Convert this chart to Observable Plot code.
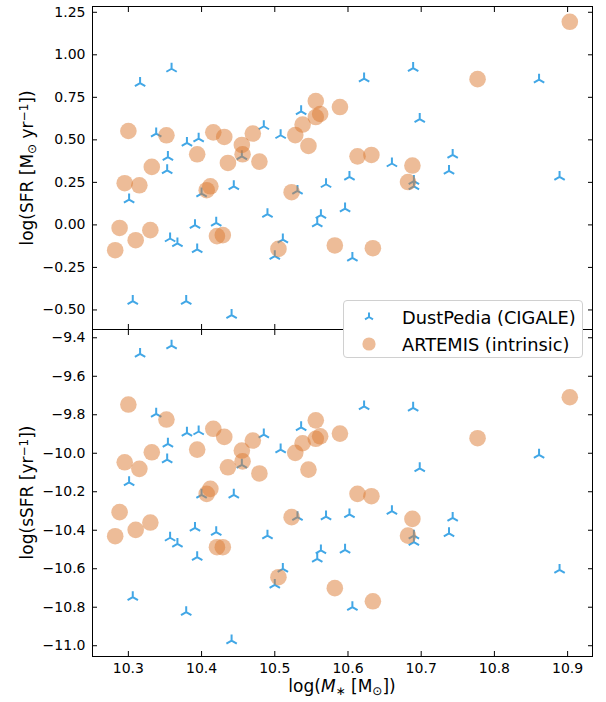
<!DOCTYPE html>
<html>
<head>
<meta charset="utf-8">
<script src="https://cdn.jsdelivr.net/npm/d3@7"></script>
<script src="https://cdn.jsdelivr.net/npm/@observablehq/plot@0.6"></script>
<style>
  html, body { margin: 0; padding: 0; background: #fff; }
  #chart { position: relative; width: 606px; height: 702px; font-family: "DejaVu Sans", sans-serif; }
  #chart > svg { position: absolute; left: 0; }
  .legend {
    position: absolute; left: 343px; top: 300px; width: 240px; height: 58px;
    background: #fff; border: 1px solid #d0d0d0; border-radius: 4px; box-sizing: border-box;
    font-size: 17.8px; color: #000;
  }
  .legend .row { position: absolute; left: 0; height: 20px; display: flex; align-items: center; }
  .legend .row svg { display: block; width: 20px; height: 20px; margin-left: 15px; flex: none; }
  .legend .row span { margin-left: 23px; white-space: nowrap; }
</style>
</head>
<body>
<div id="chart"></div>
<script>
// Stellar mass, SFR and specific SFR for the DustPedia (CIGALE) sample
const dpMass = [10.301, 10.306, 10.316, 10.338, 10.354, 10.353, 10.357, 10.359, 10.367, 10.379, 10.380, 10.391, 10.394, 10.396, 10.400, 10.420, 10.441, 10.444, 10.455, 10.485, 10.490, 10.500, 10.508, 10.511, 10.531, 10.536, 10.558, 10.563, 10.570, 10.596, 10.602, 10.606, 10.622, 10.660, 10.689, 10.690, 10.690, 10.698, 10.738, 10.743, 10.861, 10.889];
const dpSFR = [0.149, -0.448, 0.834, 0.537, 0.399, 0.321, -0.080, 0.918, -0.109, -0.448, 0.482, -0.002, -0.144, 0.507, 0.184, 0.012, -0.530, 0.227, 0.403, 0.580, 0.063, -0.184, 0.527, -0.086, 0.200, 0.668, 0.008, 0.057, 0.239, 0.096, 0.282, -0.194, 0.860, 0.361, 0.922, 0.258, 0.227, 0.622, 0.317, 0.411, 0.854, 0.282];
const dpSSFR = [-10.151, -10.748, -9.484, -9.795, -9.951, -10.033, -10.439, -9.441, -10.471, -10.826, -9.894, -10.388, -10.540, -9.887, -10.216, -10.410, -10.973, -10.216, -10.060, -9.903, -10.428, -10.684, -9.981, -10.601, -10.332, -9.865, -10.549, -10.505, -10.329, -10.502, -10.318, -10.800, -9.757, -10.301, -9.764, -10.428, -10.462, -10.078, -10.416, -10.336, -10.008, -10.606];

// ARTEMIS simulated galaxies (intrinsic values)
const arMass = [10.282, 10.288, 10.295, 10.300, 10.310, 10.315, 10.330, 10.332, 10.352, 10.394, 10.407, 10.412, 10.416, 10.421, 10.429, 10.431, 10.436, 10.455, 10.456, 10.470, 10.479, 10.505, 10.523, 10.528, 10.538, 10.546, 10.556, 10.556, 10.562, 10.582, 10.589, 10.613, 10.632, 10.634, 10.682, 10.688, 10.777, 10.903];
const arSFR = [-0.149, -0.018, 0.245, 0.552, -0.090, 0.233, -0.031, 0.341, 0.527, 0.415, 0.204, 0.227, 0.544, -0.066, -0.060, 0.517, 0.364, 0.470, 0.415, 0.537, 0.372, -0.141, 0.192, 0.528, 0.590, 0.464, 0.728, 0.634, 0.652, -0.121, 0.693, 0.403, 0.411, -0.137, 0.252, 0.349, 0.857, 1.194];
const arSSFR = [-10.431, -10.306, -10.047, -9.747, -10.398, -10.081, -10.360, -9.995, -9.825, -9.981, -10.211, -10.185, -9.873, -10.488, -10.488, -9.915, -10.073, -9.986, -10.042, -9.934, -10.105, -10.644, -10.332, -9.998, -9.948, -10.085, -9.829, -9.925, -9.912, -10.701, -9.898, -10.211, -10.223, -10.769, -10.428, -10.341, -9.922, -9.709];

// Tick values
const massTicks = [10.3, 10.4, 10.5, 10.6, 10.7, 10.8, 10.9];
const sfrTicks = [-0.5, -0.25, 0, 0.25, 0.5, 0.75, 1.0, 1.25];
const ssfrTicks = [-11.0, -10.8, -10.6, -10.4, -10.2, -10.0, -9.8, -9.6, -9.4];

const seriesNames = ["DustPedia (CIGALE)", "ARTEMIS (intrinsic)"];

const dustpedia = dpMass.map((m, i) => ({mass: m, sfr: dpSFR[i], ssfr: dpSSFR[i]}));
const artemis = arMass.map((m, i) => ({mass: m, sfr: arSFR[i], ssfr: arSSFR[i]}));

const blue = "#42a7e6";
const orange = "#dc7a32";
const FONT = "DejaVu Sans";

// three-armed "tri_up" marker: stem up, arms down-left and down-right
const triUp = {
  draw(context, size) {
    const r = Math.sqrt(size / Math.PI);
    context.moveTo(0, 0); context.lineTo(0, -r);
    context.moveTo(0, 0); context.lineTo(-r * 0.866, r * 0.5);
    context.moveTo(0, 0); context.lineTo(r * 0.866, r * 0.5);
  }
};

const massDomain = [10.251, 10.934];
const blank = () => "";

function panel(yKey, yDomain, yTicks, yFormat, opts) {
  const showX = opts.showX;
  return Plot.plot({
    width: 606,
    height: opts.height,
    marginLeft: 92,
    marginRight: 14,
    marginTop: opts.marginTop,
    marginBottom: opts.marginBottom,
    style: {fontFamily: FONT, fontSize: "14px", color: "#000", background: "transparent", overflow: "visible"},
    x: {domain: massDomain},
    y: {domain: yDomain},
    marks: [
      Plot.axisX(massTicks, {anchor: "bottom", tickSize: -5, tickPadding: 12, label: null,
        tickFormat: showX ? d3.format(".1f") : blank}),
      Plot.axisX(massTicks, {anchor: "top", tickSize: -5, label: null, tickFormat: blank}),
      Plot.axisY(yTicks, {anchor: "left", tickSize: -5, tickPadding: 12, label: null, tickFormat: d3.format(yFormat)}),
      Plot.axisY(yTicks, {anchor: "right", tickSize: -5, label: null, tickFormat: blank}),
      Plot.dot(dustpedia, {x: "mass", y: yKey, symbol: triUp, r: 6, fill: "none", stroke: blue, strokeWidth: 2}),
      Plot.dot(artemis, {x: "mass", y: yKey, r: 8.3, fill: orange, fillOpacity: 0.5, stroke: "none"}),
      Plot.frame({stroke: "#000"})
    ]
  });
}

const chart = document.getElementById("chart");

const topPlot = panel("sfr", [-0.615, 1.284], sfrTicks, ".2f", {height: 330, marginTop: 6, marginBottom: 1, showX: false});
topPlot.style.top = "0px";
const botPlot = panel("ssfr", [-11.056, -9.357], ssfrTicks, ".1f", {height: 373, marginTop: 0, marginBottom: 46, showX: true});
botPlot.style.top = "329px";
chart.append(topPlot, botPlot);

// axis titles with sub/superscripts
function addLabel(svg, x, y, rotate, parts) {
  const t = d3.select(svg).append("text")
    .attr("transform", `translate(${x},${y}) rotate(${rotate})`)
    .attr("text-anchor", "middle")
    .attr("dy", "0.35em")
    .attr("font-family", FONT)
    .attr("font-size", 17)
    .attr("fill", "#000");
  for (const p of parts) {
    const s = t.append("tspan").text(p.text);
    if (p.sub) s.attr("baseline-shift", "-22%").attr("font-size", 12);
    if (p.sup) s.attr("baseline-shift", "40%").attr("font-size", 12);
    if (p.italic) s.attr("font-style", "italic");
  }
}

addLabel(topPlot, 27, 168, -90, [
  {text: "log(SFR [M"}, {text: "⊙", sub: true}, {text: " yr"}, {text: "−1", sup: true}, {text: "])"}
]);
addLabel(botPlot, 27, 163.5, -90, [
  {text: "log(sSFR [yr"}, {text: "−1", sup: true}, {text: "])"}
]);
addLabel(botPlot, 342, 357, 0, [
  {text: "log("}, {text: "M", italic: true}, {text: "∗", sub: true}, {text: " [M"}, {text: "⊙", sub: true}, {text: "])"}
]);

// legend
const legend = document.createElement("div");
legend.className = "legend";
const ns = "http://www.w3.org/2000/svg";
seriesNames.forEach((name, i) => {
  const row = document.createElement("div");
  row.className = "row";
  row.style.top = (i === 0 ? 6 : 33) + "px";
  const sw = document.createElementNS(ns, "svg");
  sw.setAttribute("viewBox", "-10 -10 20 20");
  if (i === 0) {
    const r = 4.6;
    const p = document.createElementNS(ns, "path");
    p.setAttribute("d", `M0,0L0,${-r}M0,0L${-r * 0.866},${r * 0.5}M0,0L${r * 0.866},${r * 0.5}`);
    p.setAttribute("stroke", blue);
    p.setAttribute("stroke-width", "2");
    p.setAttribute("fill", "none");
    sw.appendChild(p);
  } else {
    const c = document.createElementNS(ns, "circle");
    c.setAttribute("r", "6.6");
    c.setAttribute("fill", orange);
    c.setAttribute("fill-opacity", "0.5");
    sw.appendChild(c);
  }
  const label = document.createElement("span");
  label.textContent = name;
  row.append(sw, label);
  legend.appendChild(row);
});
chart.appendChild(legend);
</script>
</body>
</html>
